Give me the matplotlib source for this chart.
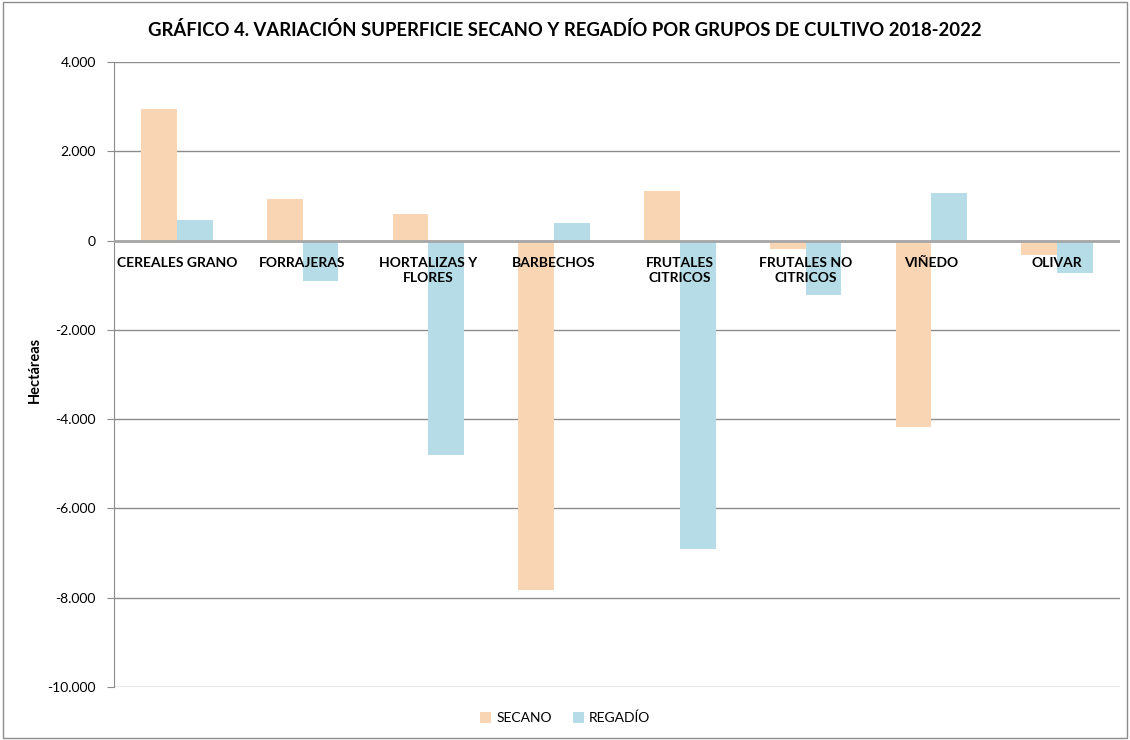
import matplotlib.pyplot as plt
import numpy as np
from matplotlib.patches import Rectangle

plt.rcParams['font.family'] = ['Lato', 'DejaVu Sans']

categorias = ['CEREALES GRANO', 'FORRAJERAS', 'HORTALIZAS Y\nFLORES', 'BARBECHOS',
              'FRUTALES\nCITRICOS', 'FRUTALES NO\nCITRICOS', 'VIÑEDO', 'OLIVAR']
secano = [2950, 920, 600, -7830, 1120, -180, -4180, -330]
regadio = [470, -910, -4810, 400, -6910, -1210, 1070, -720]
yticks = [4000, 2000, 0, -2000, -4000, -6000, -8000, -10000]
yticklabels = ['4.000', '2.000', '0', '-2.000', '-4.000', '-6.000', '-8.000', '-10.000']

col_secano = '#FAD5B4'
col_regadio = '#B6DDE7'

fig = plt.figure(figsize=(11.3, 7.4), dpi=100)
ax = fig.add_axes([114/1130, 1-687/740, (1120-114)/1130, (687-62)/740])

x = np.arange(len(categorias))
w = 0.285
ax.bar(x - w/2, secano, w, color=col_secano, label='SECANO', zorder=2)
ax.bar(x + w/2, regadio, w, color=col_regadio, label='REGADÍO', zorder=2)

ax.set_xlim(-0.5, len(categorias) - 0.5)
ax.set_ylim(-10000, 4000)
ax.set_yticks(yticks)
ax.set_yticklabels(yticklabels, fontsize=10)
ax.set_xticks([])
ax.grid(axis='y', color='#8c8c8c', linewidth=1, zorder=0)
ax.axhline(0, color='#a6a6a6', linewidth=2, zorder=3)
for s in ['top', 'right', 'bottom']:
    ax.spines[s].set_visible(False)
ax.spines['left'].set_color('#8c8c8c')
ax.tick_params(axis='y', length=5, color='#8c8c8c', pad=8)

# etiquetas de categoria junto al eje cero
for i, c in enumerate(categorias):
    ax.annotate(c, (i, 0), xytext=(0, -12), textcoords='offset points',
                ha='center', va='top', fontsize=10, fontweight='bold',
                linespacing=1.3, zorder=4)

fig.text(35/1130, 1 - 370/740, 'Hectáreas', rotation=90, ha='center', va='center',
         fontsize=10.5, fontweight='bold')
fig.text(0.5, 1 - 30/740, 'GRÁFICO 4. VARIACIÓN SUPERFICIE SECANO Y REGADÍO POR GRUPOS DE CULTIVO 2018-2022',
         ha='center', va='center', fontsize=13.3, fontweight='bold')

fig.legend(loc='center', bbox_to_anchor=(0.5, 1 - 718/740), ncol=2, frameon=False,
           fontsize=10, handlelength=0.8, handleheight=0.8, columnspacing=1.5,
           handletextpad=0.4)

fig.add_artist(Rectangle((0.003, 0.003), 0.994, 0.994, transform=fig.transFigure,
                         fill=False, edgecolor='#8c8c8c', linewidth=1))

fig.savefig('out.png', dpi=100)
